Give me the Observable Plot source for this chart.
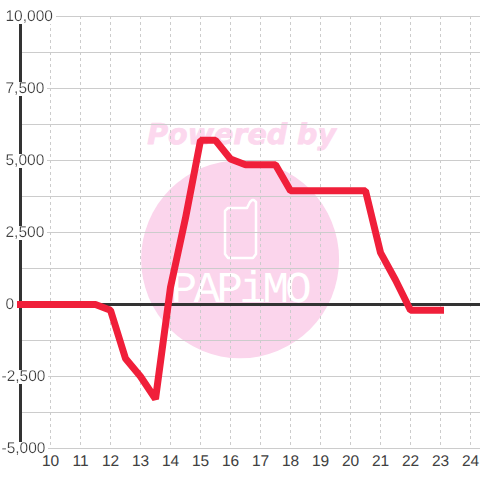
<!DOCTYPE html>
<html><head><meta charset="utf-8">
<script src="https://cdn.jsdelivr.net/npm/d3@7"></script>
<script src="https://cdn.jsdelivr.net/npm/@observablehq/plot@0.6"></script>
<style>
html,body{margin:0;padding:0;background:#fff}
svg{display:block}
svg text{text-rendering:geometricPrecision}
.lab text{filter:url(#labelBg)}
.logoName text{letter-spacing:-3.5px}
</style></head><body>
<svg width="0" height="0" style="position:absolute"><defs>
<filter id="labelBg" x="-0.02" y="0.12" width="1.06" height="0.76"><feFlood flood-color="#fff"/><feComposite in="SourceGraphic" operator="over"/></filter>
</defs></svg>
<div id="chart"></div>
<script>
const hours = [9,9.5,10,10.5,11,11.5,12,12.5,13,13.5,14,14.5,15,15.5,16,16.5,17,17.5,18,18.5,19,19.5,20,20.5,21,21.5,22,22.5,23];
const profit = [0,0,0,0,0,0,-200,-1875,-2500,-3280,600,3000,5700,5700,5050,4850,4850,4850,3950,3950,3950,3950,3950,3950,1800,850,-200,-200,-200];
const xTicks = [10,11,12,13,14,15,16,17,18,19,20,21,22,23,24];
const yLabelsPos = [0,2500,5000,7500,10000];
const yLabelsNeg = [-5000,-2500];
const yGrid = [-5000,-3750,-2500,-1250,0,1250,2500,3750,5000,6250,7500,8750,10000];
const logoCentre = [{x:16.32,y:1570}];
const logoTitle = [{x:16.37,y:5886,t:"Powered by"}];
const logoName = [{x:16.3,y:573,t:"PAPiMO"}];
const phoneX = [16.55,15.917,15.817,15.817,15.917,16.75,16.85,16.85,16.783,16.717,16.65,16.55];
const phoneY = [3351,3351,3247,1753,1615,1615,1753,3559,3628,3628,3559,3351];
const xMax = 9+(480-20)/30;
const fnt = "'Liberation Sans',Arial,sans-serif";
const chart = Plot.plot({
  width:480,height:480,
  marginLeft:0,marginRight:0,marginTop:0,marginBottom:0,
  x:{domain:[9-20/30,xMax],range:[0,480],axis:null},
  y:{domain:[10000+16*2500/72,10000+(16-480)*2500/72],range:[0,480],axis:null},
  style:{fontFamily:fnt,background:"#fff"},
  marks:[
    Plot.dot(logoCentre,{x:"x",y:"y",r:99,fill:"#fbd5ec",stroke:null}),
    Plot.text(logoTitle,{x:"x",y:"y",text:"t",fontFamily:"'DejaVu Sans'",fontWeight:"bold",fontStyle:"italic",fontSize:28.5,fill:"#fcd8ee",stroke:"#fcd8ee",strokeWidth:0.8}),
    Plot.line(phoneX.map((x,i)=>({x,y:phoneY[i]})),{x:"x",y:"y",stroke:"#fff",strokeWidth:2.5,strokeLinejoin:"round"}),
    Plot.text(logoName,{x:"x",y:"y",text:"t",fontFamily:"'Liberation Mono'",fontSize:44,fill:"#fff",className:"logoName"}),
    Plot.ruleY(yGrid,{x1:9,x2:xMax,stroke:"#ccc",strokeWidth:1}),
    Plot.ruleX(xTicks,{y1:10000,y2:-5000,stroke:"#ccc",strokeWidth:1,strokeDasharray:"3 3"}),
    Plot.ruleX([9],{y1:10000,y2:-5000,stroke:"#333",strokeWidth:3}),
    Plot.ruleY([0],{x1:9,x2:xMax,stroke:"#333",strokeWidth:3}),
    Plot.line(hours.map((h,i)=>({h,v:profit[i]})),{x:"h",y:"v",stroke:"#f01f3a",strokeWidth:7,strokeLinejoin:"miter",strokeLinecap:"square"}),
    Plot.text(yLabelsPos,{x:9,y:d=>d,text:d=>d3.format(",")(d),textAnchor:"start",dx:-15,fontSize:15.5,fill:"#404040",className:"lab"}),
    Plot.text(yLabelsNeg,{x:9,y:d=>d,text:d=>d3.format(",")(d).replace("−","-"),textAnchor:"start",dx:-19,fontSize:15.5,fill:"#404040",className:"lab"}),
    Plot.text(xTicks,{x:d=>d,y:-5000,text:d=>String(d),dy:13,fontSize:15.5,fill:"#404040"})
  ]
});
document.getElementById("chart").append(chart);
</script></body></html>
